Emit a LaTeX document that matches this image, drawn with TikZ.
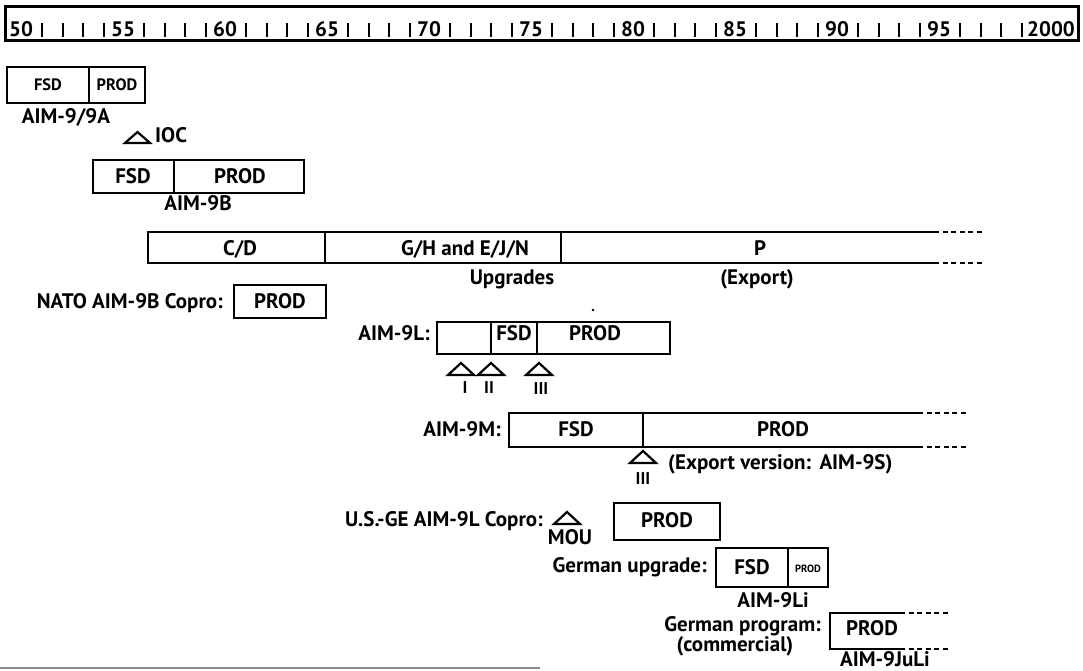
\documentclass[tikz,border=0pt]{standalone}
\usepackage{fontspec}
\setmainfont{PT Sans}
\begin{document}
\begin{tikzpicture}[x=1pt,y=-1pt,
  lab/.style={font=\fontsize{21}{22}\selectfont\bfseries, inner sep=0pt, anchor=base},
  smalllab/.style={lab, font=\fontsize{16.5}{18}\selectfont\bfseries},
  numlab/.style={lab, font=\fontsize{17}{18}\selectfont\bfseries},
  tinylab/.style={lab, font=\fontsize{10.5}{11}\selectfont\bfseries},
  bar/.style={line width=1.7pt},
  dsh/.style={line width=1.7pt, dash pattern=on 5pt off 3.5pt},
  tri/.style={line width=2.2pt, line join=miter},
  rule/.style={line width=3pt},
  tick/.style={line width=2pt},
]
\useasboundingbox (0,0) rectangle (1083,671);
% ---- ruler ----
\draw[rule] (5,7) rectangle (1078,41);
\foreach \yr/\t in {50/50,55/55,60/60,65/65,70/70,75/75,80/80,85/85,90/90,95/95}
  \node[lab] (r\yr) at ({21+20.4*(\yr-50)},37) {\t};
\node[lab, anchor=base east] (r100) at (1075,37) {2000};
\foreach \yr in {51,...,99}{
  \pgfmathtruncatemacro{\m}{mod(\yr,5)}
  \ifnum\m=0\else
    \draw[tick] ({22+20.4*(\yr-50)},23) -- ({22+20.4*(\yr-50)},37);
  \fi
}
% ---- AIM-9/9A ----
\draw[bar] (7,67) rectangle (145,103);
\draw[bar] (89,67) -- (89,103);
\node[smalllab] (a9fsd) at (48,91) {FSD};
\node[smalllab] (a9prod) at (117,91) {PROD};
\node[lab] (a9lab) at (66,124) {AIM-9/9A};
\draw[tri] (125,143) -- (137.5,132) -- (150,143) -- cycle;
\node[lab, anchor=base west] (ioc) at (155,143) {IOC};
% ---- AIM-9B ----
\draw[bar] (93,160) rectangle (304,193);
\draw[bar] (174,160) -- (174,193);
\node[lab] (bfsd) at (133,183) {FSD};
\node[lab] (bprod) at (240,183) {PROD};
\node[lab] (blab) at (198,210) {AIM-9B};
% ---- C/D, G/H, P ----
\draw[bar] (934,232) -- (148,232) -- (148,263) -- (934,263);
\draw[bar] (325,232) -- (325,263);
\draw[bar] (561,232) -- (561,263);
\draw[dsh] (934,232) -- (983,232);
\draw[dsh] (934,263) -- (983,263);
\node[lab] (cd) at (240,255) {C/D};
\node[lab] (gh) at (465,255) {G/H and E/J/N};
\node[lab] (p) at (760,255) {P};
\node[lab] (upg) at (512,284) {Upgrades};
\node[lab] (exp) at (757,284) {(Export)};
% ---- NATO ----
\node[lab, anchor=base east] (nato) at (223,308) {NATO AIM-9B Copro:};
\draw[bar] (234,285) rectangle (326,318);
\node[lab] (natoprod) at (280,308) {PROD};
% ---- AIM-9L ----
\node[lab, anchor=base east] (lname) at (430,340) {AIM-9L:};
\draw[bar] (437,322) rectangle (670,354);
\draw[bar] (491,322) -- (491,354);
\draw[bar] (537,322) -- (537,354);
\node[lab] (lfsd) at (514,340) {FSD};
\node[lab] (lprod) at (595,340) {PROD};
\fill (593,310) circle (1.4);
\foreach \cx in {461,491,539}
  \draw[tri] (\cx-13,375) -- (\cx,363) -- (\cx+13,375) -- cycle;
\node[numlab] (mi) at (465,393) {I};
\node[numlab] (mii) at (489,393) {II};
\node[numlab] (miii) at (541,394) {III};
% ---- AIM-9M ----
\node[lab, anchor=base east] (mname) at (501,436) {AIM-9M:};
\draw[bar] (918,413) -- (509,413) -- (509,447) -- (918,447);
\draw[bar] (643,413) -- (643,447);
\draw[dsh] (918,413) -- (968,413);
\draw[dsh] (918,447) -- (968,447);
\node[lab] (mfsd) at (576,436) {FSD};
\node[lab] (mprod) at (783,436) {PROD};
\draw[tri] (630,463) -- (643,451) -- (656,463) -- cycle;
\node[numlab] (m3) at (643,484) {III};
\node[lab, anchor=base west] (mexp) at (668,469) {(Export version:\hspace{0.4em}AIM-9S)};
% ---- U.S.-GE ----
\node[lab, anchor=base east] (usge) at (543,526) {U.S.-GE AIM-9L Copro:};
\draw[tri] (554,524) -- (567,512) -- (580,524) -- cycle;
\node[lab] (mou) at (570,544) {MOU};
\draw[bar] (614,503) rectangle (720,540);
\node[lab] (usprod) at (667,527) {PROD};
% ---- German upgrade ----
\node[lab, anchor=base east] (gu) at (707,572) {German upgrade:};
\draw[bar] (716,548) rectangle (828,587);
\draw[bar] (788,548) -- (788,587);
\node[lab] (gufsd) at (752,574) {FSD};
\node[tinylab] (guprod) at (808,572) {PROD};
\node[lab] (li) at (773,607) {AIM-9Li};
% ---- German program ----
\node[lab, anchor=base east] (gp) at (821,631) {German program:};
\node[lab] (gpc) at (735,651) {(commercial)};
\draw[bar] (900,613) -- (830,613) -- (830,649) -- (900,649);
\draw[dsh] (900,613) -- (948,613);
\draw[dsh] (900,649) -- (948,649);
\node[lab] (gpprod) at (872,635) {PROD};
\node[lab] (juli) at (885,666) {AIM-9JuLi};
% ---- scan edge ----
\draw[black!45, line width=1.5pt] (0,668) -- (540,668);
\end{tikzpicture}
\end{document}
